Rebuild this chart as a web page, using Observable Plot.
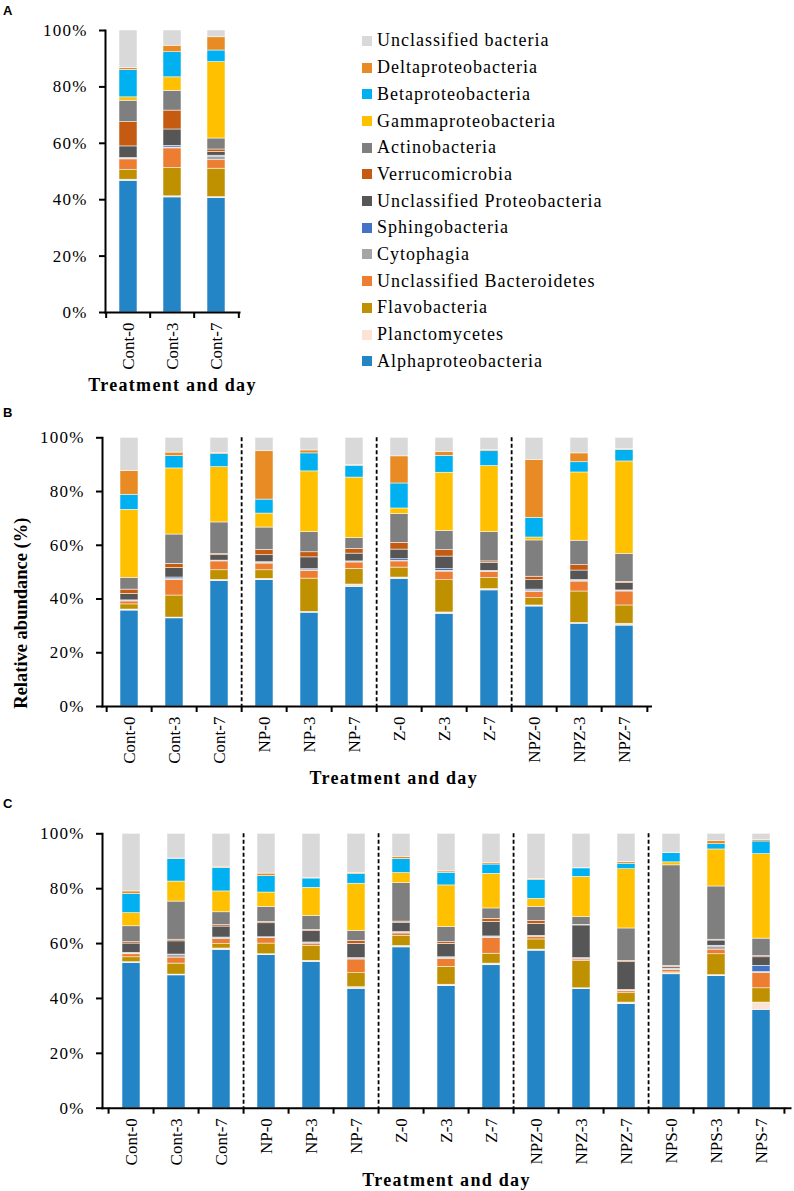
<!DOCTYPE html>
<html><head><meta charset="utf-8">
<script src="https://cdn.jsdelivr.net/npm/d3@7"></script>
<script src="https://cdn.jsdelivr.net/npm/@observablehq/plot@0.6"></script>
<style>
body{margin:0;background:#fff;}
#root{position:relative;width:794px;height:1191px;overflow:hidden;font-family:"Liberation Serif","Times New Roman",serif;background:#fff;}
.panel{position:absolute;left:0;}
svg.panel, svg.panel text{font-family:"Liberation Serif","Times New Roman",serif !important;}
.letter{position:absolute;left:3px;font-family:"Liberation Sans",Arial,sans-serif;font-weight:bold;font-size:13px;line-height:13px;}
g[aria-label="y-axis tick label"] text{letter-spacing:1.2px;}
#legend{position:absolute;left:362px;top:27.6px;}
.lrow{height:26.7px;display:flex;align-items:center;font-size:18px;letter-spacing:1px;white-space:nowrap;}
.sw{width:10px;height:10px;margin-right:5px;flex:none;}
</style></head><body><div id="root"></div>
<script>
// stack order: bottom to top
const taxa = ["Alphaproteobacteria","Planctomycetes","Flavobacteria","Unclassified Bacteroidetes","Cytophagia","Sphingobacteria","Unclassified Proteobacteria","Verrucomicrobia","Actinobacteria","Gammaproteobacteria","Betaproteobacteria","Deltaproteobacteria","Unclassified bacteria"];
const taxonColors = ["#2385C6","#FBE3D5","#BF9000","#ED7D31","#A5A5A5","#4472C4","#565656","#C55A11","#7F7F7F","#FFC000","#00B0F0","#E98B24","#D9D9D9"];

const samplesA = ["Cont-0","Cont-3","Cont-7"];
const samplesB = ["Cont-0","Cont-3","Cont-7","NP-0","NP-3","NP-7","Z-0","Z-3","Z-7","NPZ-0","NPZ-3","NPZ-7"];
const samplesC = ["Cont-0","Cont-3","Cont-7","NP-0","NP-3","NP-7","Z-0","Z-3","Z-7","NPZ-0","NPZ-3","NPZ-7","NPS-0","NPS-3","NPS-7"];
const dividersB = ["NP-0","Z-0","NPZ-0"];
const dividersC = ["NP-0","Z-0","NPZ-0","NPS-0"];

// relative abundance (%) per sample, columns in taxa order
const valuesA = [
  [46.7,0.4,3.4,3.8,0.3,0.2,4.1,8.6,7.6,1.2,9.7,0.7,13.3],
  [40.8,0.4,10.0,7.0,0.3,0.6,5.8,6.7,7.0,4.8,8.9,2.3,5.4],
  [40.6,0.3,10.1,3.0,1.3,0.3,1.3,0.9,3.9,27.1,4.1,4.7,2.4]
];
const valuesB = [
  [35.7,0.4,1.9,1.1,0.2,0.2,2.4,1.6,4.4,25.3,5.6,8.8,12.4],
  [32.8,0.3,8.2,5.8,0.3,0.6,3.5,1.6,10.9,24.6,4.6,1.3,5.5],
  [46.7,0.4,3.6,3.3,0.2,0.1,2.0,0.4,11.8,20.6,4.8,0.4,5.7],
  [47.0,0.5,3.2,2.5,0.3,0.2,2.6,2.0,8.3,5.2,5.2,18.0,5.0],
  [34.9,0.3,12.4,2.9,0.2,0.4,4.4,1.9,7.5,22.6,6.7,1.1,4.7],
  [44.5,0.9,5.8,2.4,0.2,0.2,2.9,1.7,4.1,22.5,4.4,0.2,10.2],
  [47.5,0.5,3.7,2.3,0.2,0.6,3.6,2.5,10.7,2.1,9.3,10.1,6.9],
  [34.5,0.5,12.0,3.2,0.3,0.6,4.7,2.4,7.1,21.7,6.3,1.5,5.2],
  [43.2,0.5,4.1,2.3,0.3,0.1,3.0,0.5,10.9,24.6,5.5,0.4,4.6],
  [37.2,0.4,2.7,2.4,0.2,0.6,3.5,1.3,13.5,1.1,7.3,21.6,8.2],
  [30.8,0.3,11.7,3.7,0.3,0.3,3.5,2.0,9.1,25.4,3.8,3.3,5.8],
  [30.1,0.7,6.8,5.2,0.3,0.1,2.7,0.5,10.4,34.4,4.3,0.4,4.1]
];
const valuesC = [
  [52.9,0.3,1.8,1.1,0.3,0.2,3.4,0.5,5.8,4.8,7.0,0.9,21.0],
  [48.4,0.3,4.0,2.2,0.9,0.2,4.8,0.6,13.9,7.3,8.3,0.1,9.0],
  [57.7,0.5,1.6,1.8,0.4,0.2,4.0,0.5,4.7,7.6,8.6,0.4,12.0],
  [55.8,0.3,3.9,2.0,0.2,0.1,5.1,0.5,5.5,5.2,6.0,0.9,14.5],
  [53.3,0.4,5.5,0.8,0.1,0.3,4.1,0.5,5.1,10.2,3.4,0.3,16.0],
  [43.5,0.6,5.1,5.0,0.2,0.3,5.2,1.1,3.6,17.2,3.5,0.4,14.3],
  [58.6,0.5,3.6,1.0,0.2,0.3,3.4,0.4,14.0,3.7,5.1,0.8,8.4],
  [44.5,0.5,6.5,2.9,0.4,0.2,4.9,0.6,5.5,15.2,4.6,0.5,13.7],
  [52.1,0.6,3.6,5.8,0.2,0.3,5.3,1.1,3.8,12.6,3.4,0.5,10.7],
  [57.4,0.4,3.7,1.0,0.2,0.1,4.4,1.1,5.1,2.9,6.8,0.4,16.5],
  [43.4,0.3,9.9,0.6,0.2,0.3,11.9,0.2,2.8,14.7,3.1,0.1,12.5],
  [37.9,0.6,3.4,0.7,0.3,0.2,10.1,0.5,11.8,21.6,2.0,0.6,10.3],
  [48.8,0.4,0.3,0.9,0.3,0.2,0.6,0.4,36.6,1.1,3.4,0.1,6.9],
  [48.1,0.4,7.6,1.7,1.1,0.3,1.9,0.3,19.4,13.5,1.9,1.2,2.6],
  [35.8,2.7,5.2,5.6,0.3,2.3,3.1,0.4,6.4,30.8,4.6,0.6,2.2]
];
const yTicks = [0,20,40,60,80,100];
const xTitle = "Treatment and day";
const yTitle = "Relative abundance (%)";
const serif = "'Liberation Serif','Times New Roman',serif";

function tidy(samples, values) {
  return samples.flatMap((s, i) => taxa.map((t, j) => ({sample: s, taxon: t, value: values[i][j]})));
}

function panel(o) {
  const n = o.samples.length;
  const step = (o.width - o.marginLeft - o.marginRight) / n;
  const marks = [
    Plot.barY(tidy(o.samples, o.values), {x: "sample", y: "value", fill: "taxon", stroke: "white", strokeWidth: 0.6, strokeOpacity: 0.85}),
    Plot.ruleX(o.dividers || [], {x: d => d, dx: -step / 2, stroke: "black", strokeWidth: 1.8, strokeDasharray: "4,2.5"}),
    Plot.frame({anchor: "left", strokeWidth: 2}),
    Plot.frame({anchor: "bottom", strokeWidth: 2}),
    Plot.axisY({ticks: yTicks, tickFormat: d => d + "%", tickSize: 6, tickPadding: 12, strokeWidth: 2, fontSize: 17, fontFamily: serif}),
    Plot.axisX({ticks: o.samples, tickSize: 6, tickFormat: () => "", dx: -step / 2, strokeWidth: 2}),
    Plot.axisX({ticks: [o.samples[n - 1]], tickSize: 6, tickFormat: () => "", dx: step / 2, strokeWidth: 2}),
    Plot.axisX({tickSize: 0, tickRotate: -90, tickPadding: 10, fontSize: 17, fontFamily: serif}),
    Plot.text([xTitle], {text: d => d, frameAnchor: "bottom", textAnchor: "middle", lineAnchor: "bottom", dy: o.xdy, dx: o.xdx || 0, fontWeight: "bold", fontSize: 18, fontFamily: serif})
  ];
  if (o.yLabel) {
    marks.push(Plot.text([yTitle], {text: d => d, frameAnchor: "left", textAnchor: "middle", lineAnchor: "bottom", rotate: -90, dx: -76, dy: 41, fontWeight: "bold", fontSize: 18.5, fontFamily: serif}));
  }
  const svg = Plot.plot({
    width: o.width, height: o.height,
    marginLeft: o.marginLeft, marginRight: o.marginRight, marginTop: o.marginTop, marginBottom: o.marginBottom,
    x: {domain: o.samples, paddingInner: 0.6, paddingOuter: 0.3, label: null},
    y: {domain: [0, 100], label: null},
    color: {domain: taxa, range: taxonColors},
    style: {fontFamily: serif, fontSize: "17px", color: "black", background: "transparent", overflow: "visible"},
    marks
  });
  d3.select(svg).selectAll("text").filter(function () { return this.textContent === xTitle; })
    .style("letter-spacing", "1.3px");
  svg.classList.add("panel");
  svg.style.top = o.top + "px";
  return svg;
}

const root = document.getElementById("root");
root.appendChild(panel({samples: samplesA, values: valuesA, top: 0, width: 300, height: 400, marginLeft: 105, marginRight: 61, marginTop: 30, marginBottom: 88, xdy: 78.7}));
root.appendChild(panel({samples: samplesB, values: valuesB, dividers: dividersB, top: 400, width: 794, height: 400, marginLeft: 102, marginRight: 143.5, marginTop: 37.3, marginBottom: 94, xdy: 77, xdx: 17, yLabel: true}));
root.appendChild(panel({samples: samplesC, values: valuesC, dividers: dividersC, top: 800, width: 794, height: 391, marginLeft: 102, marginRight: 4, marginTop: 33.3, marginBottom: 83.3, xdy: 77.3}));

// legend (top to bottom = reverse of stack order)
const legend = document.createElement("div");
legend.id = "legend";
taxa.map((t, i) => ({t, c: taxonColors[i]})).reverse().forEach(({t, c}) => {
  const row = document.createElement("div");
  row.className = "lrow";
  const sw = document.createElement("span");
  sw.className = "sw"; sw.style.background = c;
  const tx = document.createElement("span");
  tx.textContent = t;
  row.appendChild(sw); row.appendChild(tx);
  legend.appendChild(row);
});
root.appendChild(legend);

[["A", 4], ["B", 406], ["C", 797]].forEach(([l, y]) => {
  const d = document.createElement("div");
  d.className = "letter"; d.textContent = l; d.style.top = y + "px";
  root.appendChild(d);
});
</script></body></html>
